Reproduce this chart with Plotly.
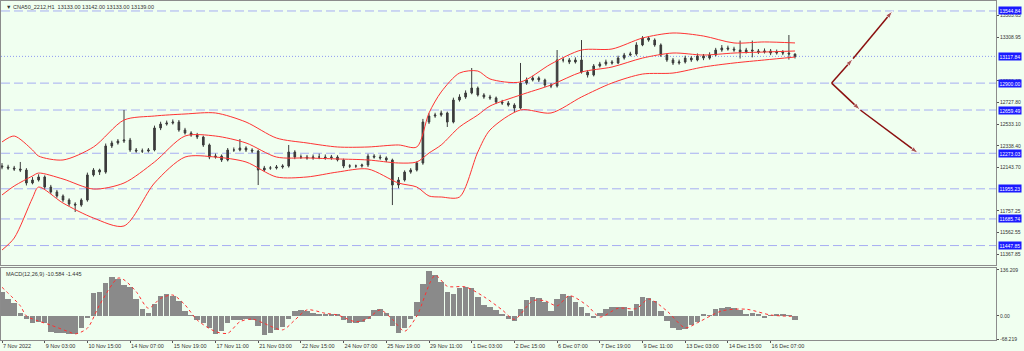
import plotly.graph_objects as go

# ---------------- data ----------------
bars = list(range(131))

opens = [
12160, 12150, 12141, 12132, 12123, 12007, 12034, 12061, 11971, 11927,
11891, 11855, 11819, 11810, 11855, 12079, 12123, 12105, 12338, 12365,
12382, 12391, 12302, 12293, 12293, 12302, 12499, 12534, 12543, 12552,
12481, 12454, 12436, 12418, 12347, 12239, 12248, 12213, 12302, 12302,
12320, 12302, 12293, 12123, 12141, 12141, 12150, 12159, 12284, 12239,
12239, 12231, 12239, 12239, 12231, 12239, 12213, 12159, 12159, 12159,
12168, 12248, 12239, 12231, 12213, 11989, 12034, 12105, 12123, 12186,
12552, 12606, 12615, 12633, 12552, 12749, 12776, 12812, 12856, 12794,
12776, 12767, 12731, 12722, 12704, 12677, 12901, 12928, 12946, 12928,
12883, 12874, 13107, 13107, 13089, 13107, 12999, 12973, 13053, 13071,
13089, 13080, 13124, 13151, 13160, 13241, 13303, 13285, 13241, 13151,
13107, 13080, 13089, 13124, 13107, 13142, 13124, 13151, 13196, 13214,
13205, 13196, 13178, 13196, 13187, 13178, 13187, 13169, 13178, 13169, 13160]

highs = [
12185, 12170, 12160, 12195, 12140, 12060, 12085, 12075, 11990, 11945,
11905, 11870, 11835, 11870, 12100, 12140, 12135, 12360, 12385, 12400,
12660, 12410, 12320, 12315, 12320, 12520, 12555, 12565, 12575, 12570,
12500, 12470, 12455, 12430, 12360, 12270, 12262, 12320, 12325, 12400,
12335, 12318, 12305, 12160, 12158, 12168, 12175, 12347, 12300, 12262,
12258, 12262, 12270, 12262, 12258, 12255, 12225, 12175, 12172, 12180,
12268, 12265, 12260, 12245, 12225, 12060, 12120, 12140, 12200, 12580,
12630, 12635, 12655, 12645, 12770, 12800, 12835, 13035, 12870, 12810,
12795, 12780, 12750, 12740, 12720, 13080, 12950, 12965, 12960, 12940,
12900, 13196, 13130, 13125, 13130, 13285, 13015, 13070, 13090, 13110,
13105, 13145, 13170, 13180, 13265, 13320, 13318, 13300, 13255, 13165,
13125, 13110, 13145, 13140, 13165, 13160, 13175, 13215, 13240, 13235,
13225, 13280, 13215, 13280, 13205, 13210, 13205, 13200, 13195, 13330, 13165]

lows = [
12130, 12125, 12115, 12105, 11985, 11995, 12020, 11955, 11910, 11875,
11838, 11800, 11748, 11795, 11840, 12065, 12079, 12090, 12320, 12350,
12365, 12285, 12278, 12275, 12280, 12290, 12480, 12520, 12530, 12465,
12440, 12420, 12400, 12330, 12220, 12225, 12195, 12200, 12285, 12290,
12285, 12275, 11989, 12110, 12125, 12128, 12135, 12145, 12220, 12222,
12215, 12215, 12220, 12215, 12215, 12200, 12140, 12140, 12142, 12145,
12150, 12225, 12215, 12195, 11810, 11960, 12020, 12090, 12110, 12170,
12535, 12590, 12600, 12508, 12540, 12735, 12760, 12800, 12780, 12760,
12750, 12715, 12705, 12690, 12642, 12665, 12885, 12915, 12910, 12865,
12855, 12860, 13085, 13070, 13075, 12985, 12950, 12960, 13040, 13055,
13065, 13070, 13110, 13140, 13145, 13230, 13270, 13225, 13135, 13090,
13062, 13065, 13075, 13090, 13095, 13105, 13110, 13140, 13180, 13190,
13180, 13120, 13165, 13130, 13160, 13165, 13150, 13155, 13150, 13110, 13120]

closes = [
12150, 12141, 12132, 12123, 12007, 12034, 12061, 11971, 11927, 11891,
11855, 11819, 11810, 11855, 12079, 12123, 12105, 12338, 12365, 12382,
12391, 12302, 12293, 12293, 12302, 12499, 12534, 12543, 12552, 12481,
12454, 12436, 12418, 12347, 12239, 12248, 12213, 12302, 12302, 12320,
12302, 12293, 12123, 12141, 12141, 12150, 12159, 12284, 12239, 12239,
12231, 12239, 12239, 12231, 12239, 12213, 12159, 12159, 12159, 12168,
12248, 12239, 12231, 12213, 11989, 12034, 12105, 12123, 12186, 12552,
12606, 12615, 12633, 12552, 12749, 12776, 12812, 12856, 12794, 12776,
12767, 12731, 12722, 12704, 12677, 12901, 12928, 12946, 12928, 12883,
12874, 13107, 13107, 13089, 13107, 12999, 12973, 13053, 13071, 13089,
13080, 13124, 13151, 13160, 13241, 13303, 13285, 13241, 13151, 13107,
13080, 13089, 13124, 13107, 13142, 13124, 13151, 13196, 13214, 13205,
13196, 13178, 13196, 13187, 13178, 13187, 13169, 13178, 13169, 13160, 13139]

# Bollinger bands read at these bars
band_idx = [0, 2, 5, 6, 10, 15, 20, 25, 30, 35, 40, 45, 50, 55, 60, 65, 68, 70,
            72, 75, 78, 80, 85, 90, 95, 100, 105, 110, 115, 120, 125, 130]
bb_upper = [12374, 12427, 12302, 12248, 12213, 12329, 12570, 12606, 12624, 12633,
            12552, 12409, 12365, 12329, 12329, 12347, 12329, 12633, 12821, 12990,
            13008, 12937, 12910, 13071, 13196, 13205, 13303, 13348, 13321, 13259,
            13268, 13259]
bb_mid = [11900, 11980, 12070, 12096, 12043, 11953, 12007, 12195, 12427, 12427,
          12365, 12239, 12231, 12222, 12213, 12186, 12195, 12275, 12347, 12508,
          12615, 12695, 12794, 12883, 12999, 13044, 13124, 13169, 13151, 13169,
          13178, 13187]
bb_lower = [11408, 11515, 11873, 11971, 11828, 11694, 11623, 12007, 12239, 12239,
            12195, 12061, 12061, 12105, 12132, 12007, 11971, 11891, 11882, 11882,
            12284, 12481, 12660, 12633, 12776, 12901, 12981, 12990, 13044, 13080,
            13107, 13133]

macd_hist = [
70, 50, 38, 10, -10, -20, -17, -22, -46, -49,
-50, -52, -54, -35, -5, 67, 72, 98, 115, 110,
92, 85, 50, 20, 10, 35, 58, 64, 60, 45,
15, 2, -12, -22, -35, -52, -45, -20, -12, -11,
-10, -11, -30, -55, -50, -42, -33, -10, 15, 17,
14, 10, 4, 6, 6, 3, -12, -21, -22, -18,
-10, 18, 21, 8, -30, -50, -35, -10, 40, 95,
132, 120, 100, 70, 65, 84, 86, 83, 55, 33,
26, 18, 5, -8, -14, 20, 48, 57, 52, 42,
15, 50, 65, 60, 40, 28, 10, -7, 8, 22,
27, 28, 27, 15, 35, 55, 52, 45, 15, -15,
-35, -41, -38, -28, -17, 3, 2, 20, 25, 26,
25, 18, 4, 10, 5, -3, 2, 3, 5, 2, -10.584]

sig_idx = [0, 3, 4, 6, 8, 11, 12, 14, 16, 19, 20, 22, 24, 26, 28, 30, 32, 35, 37, 39,
           41, 43, 46, 48, 50, 53, 55, 58, 60, 62, 64, 66, 68, 71, 73, 76, 79, 82, 84, 87,
           89, 91, 93, 96, 98, 101, 104, 106, 109, 112, 114, 118, 122, 126, 130]
sig_vals = [85, 30, 0, -15, -27, -47, -53, -36, 33, 112, 107, 72, 23, 52, 62, 33, -12, -46, -51, -17,
            -9, -22, -41, -12, 18, 8, 3, -17, -7, 18, -10, -45, 0, 120, 88, 86, 57, 18, -10, 45,
            45, 30, 60, 30, -3, 23, 22, 50, 15, -35, -20, 15, 20, 3, -1.445]

# horizontal levels
levels = [13544.84, 12900.00, 12659.49, 12273.03, 11955.23, 11685.74, 11447.85]
level_labels = ["13544.84", "12900.00", "12659.49", "12273.03", "11955.23", "11685.74", "11447.85"]
bid_level = 13139.00
bid_box = "13117.84"

# projection arrows (future bars)
proj_up_x = [136, 139.5, 146]
proj_up_y = [12900.00, 13117.84, 13544.84]
proj_dn_x = [136, 140.7, 150.2]
proj_dn_y = [12900.00, 12659.49, 12273.03]

price_ticks = [13503.65, 13308.95, 12920.65, 12727.80, 12533.10, 12338.40, 12143.70,
               11757.25, 11562.55, 11367.85]
price_tick_text = ["13503.65", "13308.95", "12920.65", "12727.80", "12533.10", "12338.40",
                   "12143.70", "11757.25", "11562.55", "11367.85"]

time_ticks = [0, 7, 14, 21, 28, 35, 42, 49, 56, 63, 70, 77, 84, 91, 98, 105, 112, 119, 126]
time_labels = ["7 Nov 2022", "9 Nov 03:00", "10 Nov 15:00", "14 Nov 07:00", "15 Nov 19:00",
               "17 Nov 11:00", "21 Nov 03:00", "22 Nov 15:00", "24 Nov 07:00", "25 Nov 19:00",
               "29 Nov 11:00", "1 Dec 03:00", "2 Dec 15:00", "6 Dec 07:00", "7 Dec 19:00",
               "9 Dec 11:00", "13 Dec 03:00", "14 Dec 15:00", "16 Dec 07:00"]

macd_ticks = [136.209, 0.0, -68.219]
macd_tick_text = ["136.209", "0.00", "-68.219"]

title_text = "\u25bc CNA50_2212,H1  13133.00 13142.00 13133.00 13139.00"
macd_text = "MACD(12,26,9) -10.584 -1.445"

# ---------------- styles ----------------
BG = "#f0fff0"
FONT = "Liberation Sans"
TXT = "#333333"
BAND = "#ff3333"
LEVEL = "#a6aef2"
XR = [-0.164, 162.95]
AX_FONT = dict(family=FONT, size=5, color=TXT)

fig = go.Figure()

fig.add_trace(go.Candlestick(
    x=bars, open=opens, high=highs, low=lows, close=closes,
    xaxis="x", yaxis="y",
    increasing=dict(line=dict(color="#3c3c3c", width=1), fillcolor="#3c3c3c"),
    decreasing=dict(line=dict(color="#3c3c3c", width=1), fillcolor="#3c3c3c"),
    whiskerwidth=0, showlegend=False, hoverinfo="skip"))

for band in (bb_upper, bb_mid, bb_lower):
    fig.add_trace(go.Scatter(x=band_idx, y=band, mode="lines", xaxis="x", yaxis="y",
                             line=dict(color=BAND, width=1, shape="spline", smoothing=0.8),
                             showlegend=False, hoverinfo="skip"))

for px_, py_ in ((proj_up_x, proj_up_y), (proj_dn_x, proj_dn_y)):
    fig.add_trace(go.Scatter(x=px_, y=py_, mode="lines+markers", xaxis="x", yaxis="y",
                             line=dict(color="#8b1010", width=1.5),
                             marker=dict(symbol="arrow", angleref="previous", size=[0, 8, 8],
                                         color="#8b1010"),
                             showlegend=False, hoverinfo="skip"))

fig.add_trace(go.Bar(x=bars, y=macd_hist, xaxis="x2", yaxis="y2", width=0.9,
                     marker=dict(color="#8a8a8a", line=dict(width=0)),
                     showlegend=False, hoverinfo="skip"))
fig.add_trace(go.Scatter(x=sig_idx, y=sig_vals, mode="lines", xaxis="x2", yaxis="y2",
                         line=dict(color="#ff3030", width=1, dash="dot", shape="spline", smoothing=0.8),
                         showlegend=False, hoverinfo="skip"))

shapes = []
for lv in levels:
    shapes.append(dict(type="line", xref="x domain", x0=0, x1=1, yref="y", y0=lv, y1=lv,
                       line=dict(color=LEVEL, width=1, dash="9px,4px"), layer="below"))
shapes.append(dict(type="line", xref="x domain", x0=0, x1=1, yref="y", y0=bid_level, y1=bid_level,
                   line=dict(color="#8f9af0", width=1, dash="1px,2px"), layer="below"))

annotations = []
for lv, lab in zip(levels + [bid_level], level_labels + [bid_box]):
    annotations.append(dict(xref="paper", x=1, xanchor="left", xshift=2, yref="y", y=lv,
                            yanchor="middle", text=lab, showarrow=False,
                            font=dict(family=FONT, size=5, color="white"),
                            bgcolor="#1a1aff", borderpad=0.5))
annotations.append(dict(xref="x domain", x=0.003, xanchor="left", yref="y domain", y=0.998,
                        yanchor="top", text=title_text, showarrow=False,
                        font=dict(family=FONT, size=5.5, color=TXT)))
annotations.append(dict(xref="x2 domain", x=0.003, xanchor="left", yref="y2 domain", y=0.99,
                        yanchor="top", text=macd_text, showarrow=False,
                        font=dict(family=FONT, size=5.5, color=TXT)))

axis_common = dict(showgrid=False, zeroline=False, showline=True, linecolor="#8c8c8c",
                   mirror=True, linewidth=1, automargin=False)

fig.update_layout(
    width=1024, height=351,
    margin=dict(l=1, r=28, t=1, b=11, autoexpand=False),
    paper_bgcolor=BG, plot_bgcolor=BG,
    showlegend=False, bargap=0, boxgap=0.62,
    shapes=shapes, annotations=annotations,
    xaxis=dict(domain=[0, 1], range=XR, anchor="y", showticklabels=False, ticks="",
               rangeslider=dict(visible=False), **axis_common),
    yaxis=dict(domain=[0.2212, 1], range=[11274, 13634], side="right", anchor="x",
               tickvals=price_ticks, ticktext=price_tick_text, ticks="outside", ticklen=2,
               tickcolor="#555555", tickfont=AX_FONT, **axis_common),
    xaxis2=dict(domain=[0, 1], range=XR, anchor="y2", tickvals=time_ticks, ticktext=time_labels,
                ticks="outside", ticklen=2, tickcolor="#555555", ticklabelposition="outside right",
                tickangle=0, tickfont=dict(family=FONT, size=5.5, color=TXT), **axis_common),
    yaxis2=dict(domain=[0, 0.2124], range=[-71, 142], side="right", anchor="x2",
                tickvals=macd_ticks, ticktext=macd_tick_text, ticks="outside", ticklen=2,
                tickcolor="#555555", tickfont=AX_FONT, **axis_common),
)

fig.write_html("out.html")
